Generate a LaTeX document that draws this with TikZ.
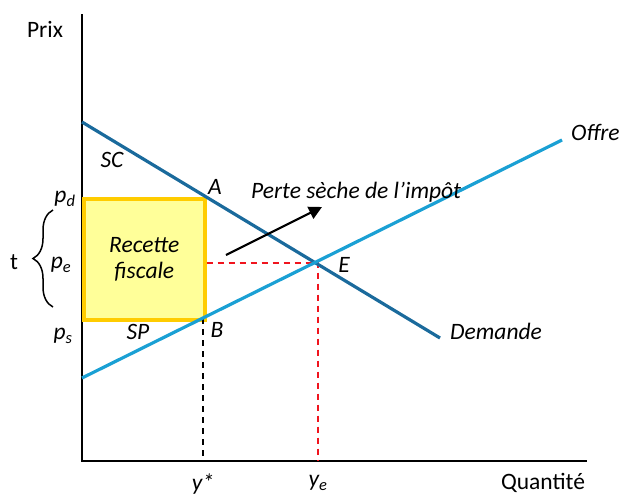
\documentclass[tikz,border=0pt]{standalone}
\usepackage{fontspec}
\setmainfont{Carlito}
\usepackage{tikz}
\usetikzlibrary{arrows.meta,decorations.pathreplacing}
\definecolor{demblue}{HTML}{1A6A9C}
\definecolor{offblue}{HTML}{1AA0D4}
\definecolor{recfill}{HTML}{FFFF99}
\definecolor{recline}{HTML}{FFCC00}
\definecolor{dashred}{HTML}{F0141E}

\begin{document}
\begin{tikzpicture}[x=1pt, y=-1pt,
    every node/.style={font=\fontsize{23.5}{26}\selectfont, inner sep=1pt},
    lbl/.style={font=\fontsize{23.5}{26}\selectfont\itshape},
    axis/.style={draw=black, line width=1.6pt},
    curve/.style={line width=3.2pt},
    guide/.style={line width=1.5pt, dash pattern=on 6pt off 5pt}
]
\useasboundingbox (0,0) rectangle (626,496);
% Axes
\coordinate (top) at (82,14);
\coordinate (o) at (82,461);
\coordinate (right) at (587,461);
\draw[axis] (top) -- (o) -- (right);
\node (prix) at (45,29) {Prix};
\node (quant) at (543,483) {Quantité};

% Recette fiscale
\node[draw=recline, fill=recfill, line width=3.5pt, minimum width=121pt, minimum height=121pt,
      anchor=north west, align=center, lbl] (rec) at (82,197) {Recette\\fiscale};

% Curves
\coordinate (d0) at (82,122);
\coordinate (d1) at (440,338);
\coordinate (s0) at (82,378);
\coordinate (s1) at (562,140);
\coordinate (e) at (318,263);
\coordinate (b) at (203,318);
\coordinate (ye) at (318,461);
\coordinate (ys) at (203,461);
\draw[guide, draw=dashred] (rec.east |- e) -- (e) -- (ye);
\draw[guide, draw=black] (b) -- (ys);
\draw[curve, demblue] (d0) -- (d1);
\draw[curve, offblue] (s0) -- (s1);

% Labels
\node[lbl, anchor=west] (offre) at (570,132) {Offre};
\node[lbl, anchor=west] (dem) at (449,331) {Demande};
\node[lbl] (la) at (215,187) {A};
\node[lbl] (lb) at (217,330) {B};
\node[lbl] (le) at (344,265) {E};
\node[lbl] (sc) at (112,160) {SC};
\node[lbl] (sp) at (138,332) {SP};
\node[lbl] (pd) at (65,199) {p\textsubscript{d}};
\node[lbl] (pe) at (61,265) {p\textsubscript{e}};
\node[lbl] (ps) at (63,336) {p\textsubscript{s}};
\node[lbl] (ystar) at (203,484) {y*};
\node[lbl] (yel) at (318,483) {y\textsubscript{e}};
\node (t) at (14,262) {t};
\coordinate (br0) at (53,307);
\coordinate (br1) at (53,210);
\draw[line width=1.5pt, decorate, decoration={brace, amplitude=20pt, aspect=0.5}] (br0) -- (br1);

% Perte seche
\node[lbl, anchor=west] (perte) at (250,192) {Perte sèche de l’impôt};
\coordinate (a0) at (226,255);
\coordinate (a1) at (322,207);
\draw[-{Triangle[length=13pt, width=13pt]}, line width=2.2pt] (a0) -- (a1);
\end{tikzpicture}
\end{document}
